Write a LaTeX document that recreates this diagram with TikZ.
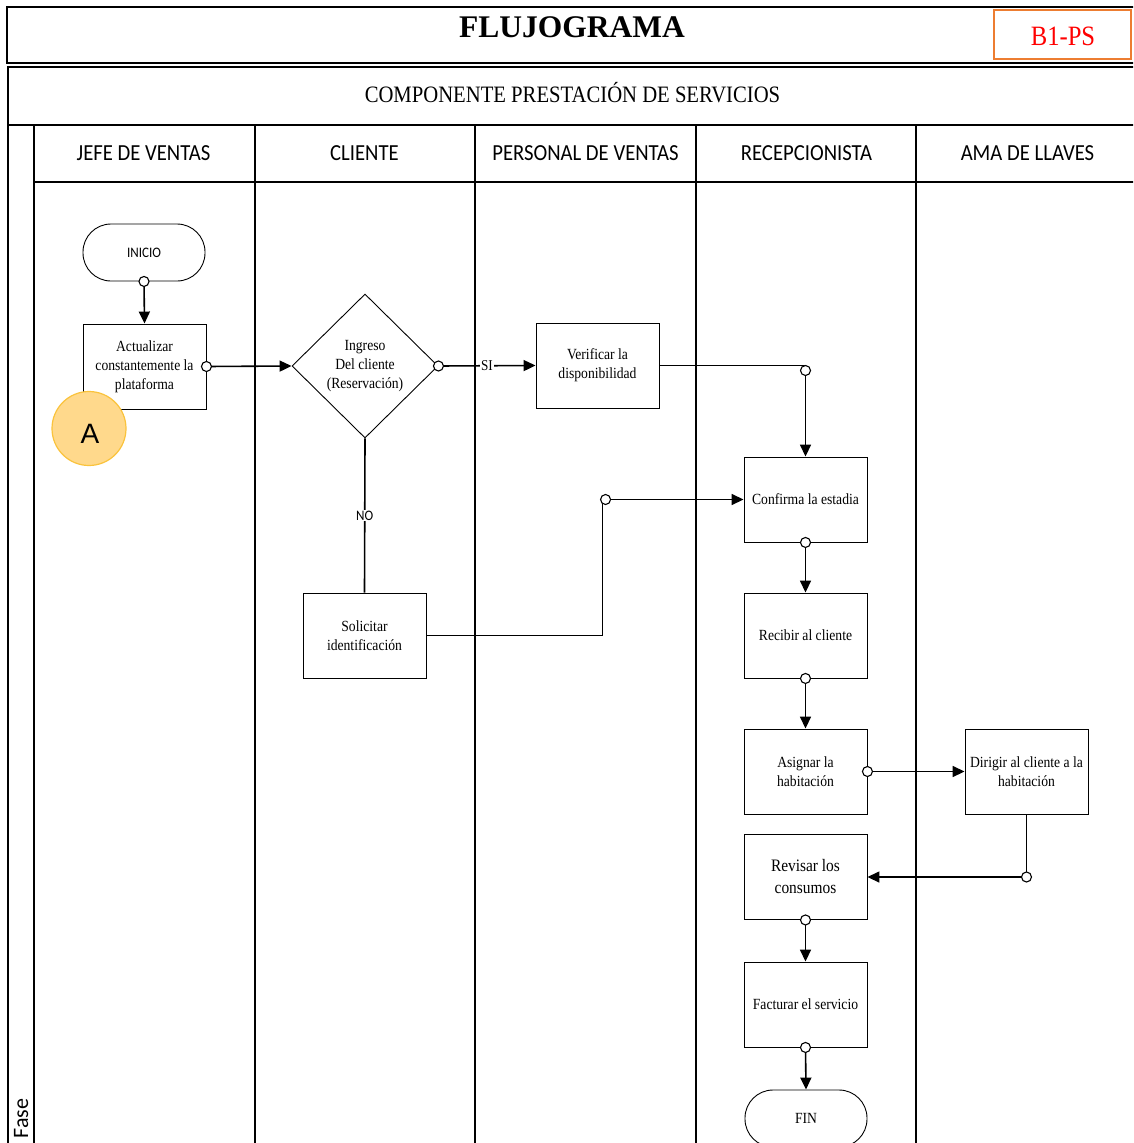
\documentclass[tikz,border=0pt]{standalone}
\usepackage{fontspec}
\setmainfont{Liberation Serif}
\newfontfamily\condserif[FakeStretch=0.88]{Liberation Serif}
\newfontfamily\condsans[FakeStretch=0.9]{Carlito}
\newfontfamily\plainsans{Carlito}
\newfontfamily\arialsans{Liberation Sans}
\usetikzlibrary{arrows.meta,shapes.geometric,calc}
\definecolor{orng}{RGB}{237,125,49}
\definecolor{redtxt}{RGB}{255,0,0}
\definecolor{afill}{RGB}{255,217,140}
\definecolor{aline}{RGB}{250,195,60}
\begin{document}
\begin{tikzpicture}[x=1pt,y=-1pt,
  lane/.style={line width=1.5pt},
  proc/.style={draw, line width=0.9pt, rectangle, minimum width=123pt, minimum height=85pt, inner sep=1pt, align=center, font=\condserif\fontsize{15.5}{19}\selectfont},
  term/.style={draw, line width=0.9pt, rectangle, rounded corners=28pt, minimum width=122pt, minimum height=57pt, align=center},
  conn/.style={line width=1.6pt, -{Triangle[length=12pt,width=11pt]}},
  plainline/.style={line width=1.6pt},
  dot/.style={draw, circle, fill=white, line width=1.1pt, inner sep=0pt, minimum size=10pt},
  hdr/.style={anchor=base, font=\condsans\fontsize{23}{27}\selectfont},
  lbl/.style={fill=white, inner sep=1pt},
]
\useasboundingbox (0,0) rectangle (1133,1143);
\clip (0,0) rectangle (1133,1143);
% title block
\draw[line width=2.5pt] (7,7) rectangle (1145,63);
\node[anchor=base, font=\bfseries\fontsize{31.5}{36}\selectfont] (title) at (572,37) {FLUJOGRAMA};
\draw[orng, line width=2pt, fill=white] (994,10) rectangle (1131,59);
\node[anchor=base, text=redtxt, font=\condserif\fontsize{28}{32}\selectfont] (code) at (1063,45) {B1-PS};
% main table
\draw[line width=2pt] (8,1150) -- (8,67) -- (1145,67);
\node[anchor=base, font=\condserif\fontsize{23.5}{28}\selectfont] (comp) at (572.5,102.5) {COMPONENTE PRESTACIÓN DE SERVICIOS};
\draw[lane] (8,125) -- (1145,125);
\draw[lane] (34,182) -- (1145,182);
\foreach \xx in {34,255,475,696,916} {\draw[lane] (\xx,125) -- (\xx,1150);}
\node[hdr] (h1) at (143.5,160) {JEFE DE VENTAS};
\node[hdr] (h2) at (364.5,160) {CLIENTE};
\node[hdr] (h3) at (585.5,160) {PERSONAL DE VENTAS};
\node[hdr] (h4) at (806.5,160) {RECEPCIONISTA};
\node[hdr] (h5) at (1027.5,160) {AMA DE LLAVES};
\node[rotate=90, anchor=base west, font=\plainsans\fontsize{22}{26}\selectfont] (fase) at (28,1142) {Fase};
% nodes
\node[term, font=\condsans\fontsize{14.5}{17}\selectfont] (ini) at (144,252.5) {INICIO};
\node[proc] (act) at (144.5,366.5) {Actualizar\\constantemente la\\plataforma};
\node[diamond, draw, line width=0.9pt, minimum width=146pt, minimum height=144pt, inner sep=0pt, align=center, font=\condserif\fontsize{15.5}{19}\selectfont] (dec) at (365,366) {Ingreso\\Del cliente\\(Reservación)};
\node[proc] (ver) at (597.5,365.5) {Verificar la\\disponibilidad};
\node[proc] (conf) at (805.5,499.5) {Confirma la estadia};
\node[proc] (sol) at (364.5,635.5) {Solicitar\\identificación};
\node[proc] (rec) at (805.5,635.5) {Recibir al cliente};
\node[proc] (asig) at (805.5,771.5) {Asignar la\\habitación};
\node[proc] (dir) at (1026.5,771.5) {Dirigir al cliente a la\\habitación};
\node[proc, font=\condserif\fontsize{17.5}{22}\selectfont] (rev) at (805.5,877) {Revisar los\\consumos};
\node[proc] (fac) at (805.5,1004.5) {Facturar el servicio};
\node[term, font=\condserif\fontsize{15.5}{19}\selectfont] (fin) at (806,1118.5) {FIN};
% connectors
\draw[conn] (ini.south) -- (act.north);
\node[dot] (d1) at (ini.south) {};
\draw[conn] (act.east) -- (dec.west);
\node[dot] (d2) at (act.east) {};
\draw[conn] (dec.east) -- node[lbl, font=\condserif\fontsize{15}{18}\selectfont] (si) {SI} (ver.west);
\node[dot] (d3) at (dec.east) {};
\draw[conn] (ver.east) -| (conf.north);
\node[dot] (d4) at ($(conf.north |- ver.east)+(0,5)$) {};
\draw[plainline] (dec.south) -- node[lbl, font=\condsans\fontsize{14.5}{17}\selectfont] (no) {NO} (sol.north);
\coordinate (j1) at ($(conf.west)+(-141,0)$);
\draw[conn] (sol.east) -| (j1) -- (conf.west);
\node[dot] (d5) at ($(j1)+(3,0)$) {};
\draw[conn] (conf.south) -- (rec.north);
\node[dot] (d6) at (conf.south) {};
\draw[conn] (rec.south) -- (asig.north);
\node[dot] (d7) at (rec.south) {};
\draw[conn] (asig.east) -- (dir.west);
\node[dot] (d8) at (asig.east) {};
\coordinate (j2) at (dir.south |- rev.east);
\draw[conn] (dir.south) -- (j2) -- (rev.east);
\node[dot] (d9) at (j2) {};
\draw[conn] (rev.south) -- (fac.north);
\node[dot] (d10) at (rev.south) {};
\draw[conn] (fac.south) -- (fin.north);
\node[dot] (d11) at (fac.south) {};
% marker A
\node[circle, draw=aline, fill=afill, line width=1.2pt, minimum size=74pt, inner sep=0pt] (markA) at (89,428.5) {};
\node[anchor=base, font=\arialsans\fontsize{28}{32}\selectfont] (markAtxt) at (90,443.5) {A};
\end{tikzpicture}
\end{document}
